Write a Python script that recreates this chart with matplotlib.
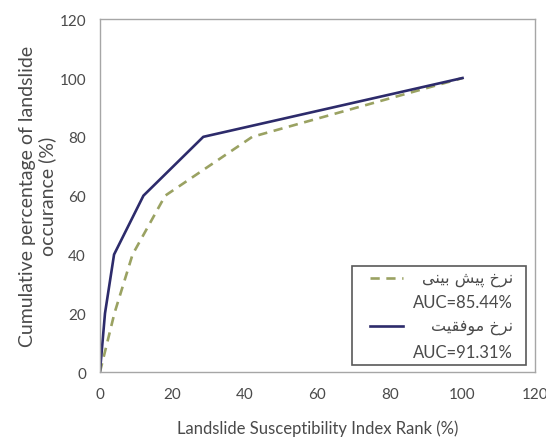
import matplotlib
matplotlib.use('Agg')
import matplotlib.pyplot as plt
from matplotlib.lines import Line2D
from matplotlib.patches import Rectangle

plt.rcParams['font.family'] = ['Lato', 'DejaVu Sans']

# success rate curve
success_x = [0, 1.4, 3.9, 12, 28.5, 100]
success_y = [0, 20, 40, 60, 80, 100]
# prediction rate curve
predict_x = [0, 4, 9, 18, 42, 100]
predict_y = [0, 20, 40, 60, 80, 100]

x_ticks = [0, 20, 40, 60, 80, 100, 120]
y_ticks = [0, 20, 40, 60, 80, 100, 120]

# Persian labels, pre-shaped in visual order (matplotlib does no bidi)
predict_label = 'ﯽﻨﯿﺑ ﺶﯿﭘ ﺥﺮﻧ'   # نرخ پیش بینی
success_label = 'ﺖﯿﻘﻓﻮﻣ ﺥﺮﻧ'      # نرخ موفقیت
predict_auc = 'AUC=85.44%'
success_auc = 'AUC=91.31%'

NAVY = '#2d2b6b'
OLIVE = '#9aa262'
GRAY = '#a6a6a6'
TXT = '#4a4a4a'

fig = plt.figure(figsize=(5.46, 4.39), dpi=100)
ax = fig.add_axes([0.183, 0.150, 0.797, 0.804])

ax.plot(predict_x, predict_y, color=OLIVE, lw=1.9, ls=(0, (3.5, 2.5)))
ax.plot(success_x, success_y, color=NAVY, lw=1.9)

ax.set_xlim(0, 120)
ax.set_ylim(0, 120)
ax.set_xticks(x_ticks)
ax.set_yticks(y_ticks)
ax.tick_params(length=0, labelsize=11, labelcolor=TXT)
ax.tick_params(axis='x', pad=11)
ax.tick_params(axis='y', pad=10)
for s in ax.spines.values():
    s.set_color(GRAY)
    s.set_linewidth(1.0)

ax.set_xlabel('Landslide Susceptibility Index Rank (%)', fontsize=12,
              color=TXT)
ax.xaxis.set_label_coords(0.5, -0.135)
ax.set_ylabel('Cumulative percentage of landslide\noccurance (%)',
              fontsize=14, color=TXT, linespacing=1.15)
ax.yaxis.set_label_coords(-0.10, 0.5)

# legend box drawn by hand (Excel style: AUC line sits under the entry)
box = Rectangle((0.58, 0.02), 0.40, 0.28, transform=ax.transAxes,
                facecolor='white', edgecolor='#595959', lw=1.2, zorder=5)
ax.add_patch(box)
ax.add_line(Line2D([0.62, 0.697], [0.266, 0.266], transform=ax.transAxes,
                   color=OLIVE, lw=1.9, ls=(0, (3.5, 2.5)), zorder=6))
ax.add_line(Line2D([0.62, 0.697], [0.13, 0.13], transform=ax.transAxes,
                   color=NAVY, lw=1.9, zorder=6))
tx = 0.95
ax.text(tx, 0.266, predict_label, transform=ax.transAxes, ha='right',
        va='center', fontsize=11.5, color=TXT, zorder=7,
        family=['DejaVu Sans'])
ax.text(tx, 0.198, predict_auc, transform=ax.transAxes, ha='right',
        va='center', fontsize=12, color=TXT, zorder=7)
ax.text(tx, 0.13, success_label, transform=ax.transAxes, ha='right',
        va='center', fontsize=11.5, color=TXT, zorder=7,
        family=['DejaVu Sans'])
ax.text(tx, 0.057, success_auc, transform=ax.transAxes, ha='right',
        va='center', fontsize=12, color=TXT, zorder=7)

fig.savefig('out.png', dpi=100)
